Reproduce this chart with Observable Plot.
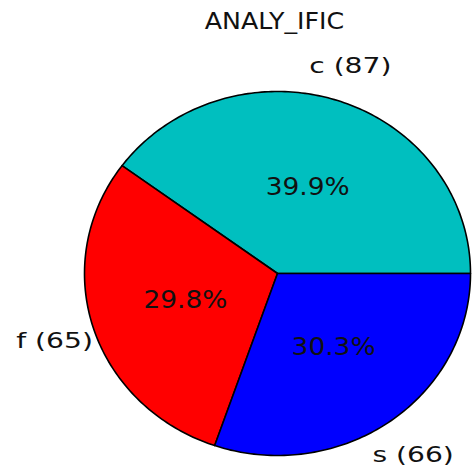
<!DOCTYPE html>
<html>
<head>
<meta charset="utf-8">
<script src="https://cdn.jsdelivr.net/npm/d3@7"></script>
<script src="https://cdn.jsdelivr.net/npm/@observablehq/plot@0.6"></script>
<style>
  html, body { margin: 0; padding: 0; background: #fff; }
  #chart svg { display: block; }
</style>
</head>
<body>
<div id="chart"></div>
<script>
// ---- data ----
const title = "ANALY_IFIC";
const categories = ["c", "f", "s"];
const counts = [87, 65, 66];
const sliceColors = ["#00bfbf", "#ff0000", "#0000ff"];

// ---- build slice geometry ----
const total = d3.sum(counts);
const labelDistance = 1.21;
const pctDistance = 0.5;
const polys = [];
const pctText = [];
const catText = [];
let a0 = 0; // start angle (degrees), counter-clockwise
categories.forEach((cat, i) => {
  const frac = counts[i] / total;
  const a1 = a0 + frac * 360;
  const rad = a => a * Math.PI / 180;
  polys.push({ key: cat, color: sliceColors[i], x: 0, y: 0 });
  const steps = Math.max(2, Math.ceil(a1 - a0));
  for (let k = 0; k <= steps; k++) {
    const a = rad(a0 + (a1 - a0) * k / steps);
    polys.push({ key: cat, color: sliceColors[i], x: Math.cos(a), y: Math.sin(a) });
  }
  const mid = rad((a0 + a1) / 2);
  pctText.push({ x: pctDistance * Math.cos(mid), y: pctDistance * Math.sin(mid), text: (frac * 100).toFixed(1) + "%" });
  catText.push({ x: labelDistance * Math.cos(mid), y: labelDistance * Math.sin(mid), text: `${cat} (${counts[i]})` });
  a0 = a1;
});

const font = "DejaVu Sans, Bitstream Vera Sans, sans-serif";

const chart = Plot.plot({
  width: 472,
  height: 467,
  marginLeft: 84,
  marginRight: 2,
  marginTop: 91,
  marginBottom: 12,
  style: { background: "#fff", overflow: "visible" },
  x: { domain: [-1, 1], axis: null },
  y: { domain: [-1, 1], axis: null },
  color: { type: "identity" },
  marks: [
    Plot.line(polys, {
      x: "x", y: "y", z: "key", fill: "color",
      stroke: "black", strokeWidth: 1.6, strokeLinejoin: "round",
      curve: "linear-closed"
    }),
    Plot.text(pctText, {
      x: "x", y: "y", text: "text", fontSize: 24, fill: "#111",
      fontFamily: font, textAnchor: "middle", lineAnchor: "middle",
      className: "pct"
    }),
    Plot.text(catText, {
      x: "x", y: "y", dy: 2, text: "text", fontSize: 22, fill: "#111",
      fontFamily: font, textAnchor: "middle", lineAnchor: "middle",
      className: "lbl"
    }),
    Plot.text([title], {
      frameAnchor: "top", dy: -70, dx: -3, text: d => d, fontSize: 23, fill: "#111",
      fontFamily: font, lineAnchor: "middle",
      className: "ttl"
    })
  ]
});

document.getElementById("chart").appendChild(chart);

// horizontal stretch of the glyphs, as in the reference raster
const stretch = { pct: 1.1, lbl: 1.28, ttl: 1.1 };
Object.entries(stretch).forEach(([cls, k]) => {
  chart.querySelectorAll(`.${cls} text, text.${cls}`).forEach(t => {
    const len = t.getComputedTextLength();
    if (len > 0) {
      t.setAttribute("textLength", (len * k).toFixed(1));
      t.setAttribute("lengthAdjust", "spacingAndGlyphs");
    }
  });
});
</script>
</body>
</html>
